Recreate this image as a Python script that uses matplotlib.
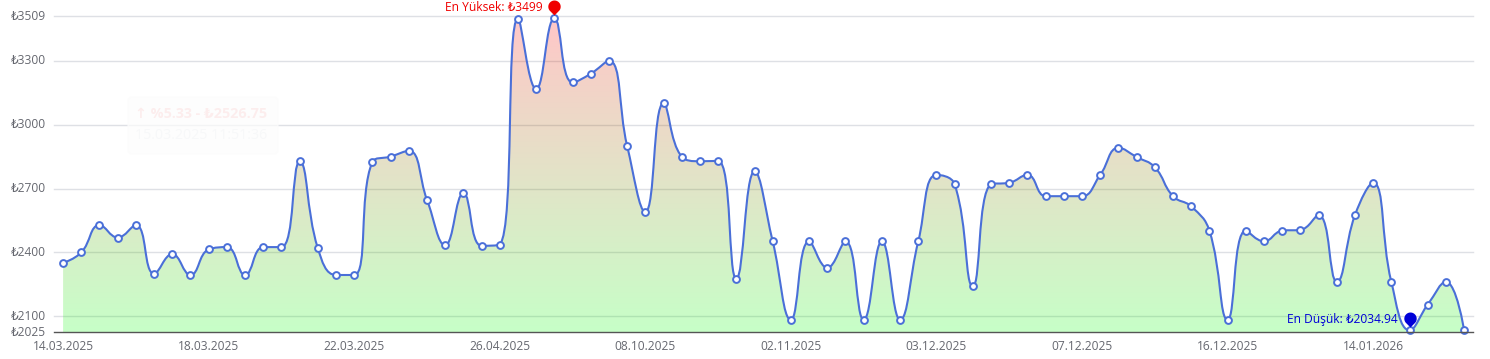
import numpy as np
import matplotlib
matplotlib.use("Agg")
import matplotlib.pyplot as plt
from matplotlib.path import Path
from matplotlib.patches import PathPatch, FancyBboxPatch
from matplotlib.transforms import ScaledTranslation

plt.rcParams['font.family'] = ['Open Sans', 'DejaVu Sans']

values = [2350, 2400, 2528, 2470, 2528, 2300, 2392, 2294, 2414, 2425, 2294, 2425, 2425,
          2827, 2420, 2294, 2294, 2825, 2850, 2877, 2647, 2434, 2678, 2431, 2437,
          3497, 3167, 3499, 3198, 3239, 3300, 2900, 2590, 3100, 2850, 2828, 2830,
          2276, 2780, 2452, 2084, 2452, 2328, 2452, 2084, 2452, 2084, 2452, 2764,
          2720, 2241, 2720, 2727, 2764, 2664, 2664, 2664, 2764, 2891, 2848, 2800,
          2664, 2616, 2502, 2084, 2502, 2452, 2502, 2506, 2575, 2262, 2575, 2727,
          2262, 2034.94, 2155, 2262, 2035]
date_labels = ['14.03.2025', '18.03.2025', '22.03.2025', '26.04.2025', '08.10.2025',
               '02.11.2025', '03.12.2025', '07.12.2025', '16.12.2025', '14.01.2026']
label_every = 8
y_ticks = [2025, 2100, 2400, 2700, 3000, 3300, 3509]
max_label = 'En Yüksek: ₺3499'
min_label = 'En Düşük: ₺2034.94'
ghost_top = '↑ %5.33 - ₺2526.75'
ghost_bottom = '15.03.2025 11:51:36'

W, H = 1490, 359
fig = plt.figure(figsize=(W / 100, H / 100), dpi=100, facecolor='white')
L, R, T, B = 54, 1473.2, 16.2, 332.3
ax = fig.add_axes([L / W, 1 - B / H, (R - L) / W, (B - T) / H])
n = len(values)
ax.set_xlim(-0.5, n - 0.5)
ax.set_ylim(min(y_ticks), max(y_ticks))
ax.set_facecolor('white')


def smooth_path(xs, ys, smooth=0.45):
    """ECharts-style smoothing, worked out in pixel space."""
    pts = ax.transData.transform(np.column_stack([xs, ys]))
    verts = [pts[0]]
    codes = [Path.MOVETO]
    cp0 = pts[0].copy()
    m = len(pts)
    for i in range(1, m):
        p = pts[i]
        prev = pts[i - 1]
        if i == m - 1:
            verts += [cp0, p, p]
            codes += [Path.CURVE4] * 3
            break
        nxt = pts[i + 1]
        v = nxt - prev
        d0 = p - prev
        d1 = nxt - p
        l0 = np.hypot(*d0)
        l1 = np.hypot(*d1)
        ratio = l1 / (l0 + l1)
        ncp = p + v * smooth * ratio
        ncp = np.minimum(ncp, np.maximum(nxt, p))
        ncp = np.maximum(ncp, np.minimum(nxt, p))
        vv = ncp - p
        cp1 = p - vv * l0 / l1
        cp1 = np.minimum(cp1, np.maximum(prev, p))
        cp1 = np.maximum(cp1, np.minimum(prev, p))
        vv = p - cp1
        ncp = p + vv * l1 / l0
        verts += [cp0, cp1, p]
        codes += [Path.CURVE4] * 3
        cp0 = ncp
    inv = ax.transData.inverted()
    return Path(inv.transform(np.array(verts)), codes)


xs = np.arange(n)
ys = np.array(values, dtype=float)
curve = smooth_path(xs, ys)

# grid
for t in y_ticks:
    if t != min(y_ticks):
        ax.axhline(t, color='#DEE0E5', lw=1.0, zorder=1, clip_on=False)

# gradient area
area_v = np.vstack([curve.vertices, [xs[-1], min(y_ticks)], [xs[0], min(y_ticks)], [xs[0], ys[0]]])
area_c = list(curve.codes) + [Path.LINETO, Path.LINETO, Path.CLOSEPOLY]
area = PathPatch(Path(area_v, area_c), transform=ax.transData, fc='none', ec='none')
ax.add_patch(area)
N = 256
frac = np.linspace(0, 1, N)[:, None]
grad = np.zeros((N, 1, 4))
grad[..., 0] = 1 - frac
grad[..., 1] = frac
grad[..., 3] = 0.22
im = ax.imshow(grad, extent=(-0.5, n - 0.5, min(y_ticks), max(ys)), origin='upper',
               aspect='auto', zorder=2, interpolation='bilinear')
im.set_clip_path(area)
ax.set_xlim(-0.5, n - 0.5)
ax.set_ylim(min(y_ticks), max(y_ticks))

# line + symbols
ax.add_patch(PathPatch(curve, fc='none', ec='#4A6FD8', lw=1.5, zorder=3, clip_on=False,
                       capstyle='round', joinstyle='round'))
ax.plot(xs, ys, ls='none', marker='o', ms=4.9, mfc='white', mec='#4A6FD8', mew=1.4,
        zorder=4, clip_on=False)


def pin():
    r, cy, tip = 6.2, 11.8, 3.0
    ang = np.radians(np.linspace(-40, 220, 60))
    arc = np.column_stack([r * np.cos(ang), cy + r * np.sin(ang)])
    v = np.vstack([arc, [(0, tip)], arc[:1]])
    return Path(v, [Path.MOVETO] + [Path.LINETO] * (len(v) - 2) + [Path.CLOSEPOLY])


i_max = int(np.argmax(ys))
i_min = int(np.argmin(ys))
for i, col, txt, dy in [(i_max, '#F00000', max_label, 11), (i_min, '#0000D8', min_label, 10.3)]:
    ax.plot([xs[i]], [ys[i]], marker=pin(), ms=25.9, mfc=col, mec='none', ls='none',
            zorder=5, clip_on=False)
    ax.annotate(txt, (xs[i], ys[i]), xytext=(-11.8 * 0.72, dy * 0.72), textcoords='offset points',
                ha='right', va='center', color=col, fontsize=8.64, zorder=6, annotation_clip=False)

# faint leftover tooltip
box = FancyBboxPatch((128, H - 154), 150, 57, boxstyle='round,pad=0,rounding_size=4',
                     transform=None, fc='#FDFDFD', ec='#FCFCFC', lw=1, alpha=0.7, zorder=2.5)
fig.add_artist(box)
fig.text(135 / W, 1 - 113.8 / H, ghost_top, color='#FCEDED', fontsize=10.3, fontweight='bold',
         ha='left', va='center')
fig.text(135 / W, 1 - 135.2 / H, ghost_bottom, color='#F7F8F9', fontsize=10.3, ha='left', va='center')

# axes
for s in ['top', 'left', 'right']:
    ax.spines[s].set_visible(False)
ax.spines['bottom'].set_color('#555555')
ax.spines['bottom'].set_linewidth(1.0)
ax.spines['bottom'].set_zorder(4.5)
ax.set_yticks(y_ticks)
ax.set_yticklabels([f'₺{t}' for t in y_ticks])
ax.set_xticks(np.arange(len(date_labels)) * label_every)
ax.set_xticklabels(date_labels)
ax.tick_params(axis='y', length=0, pad=5.9, labelsize=8.64, labelcolor='#666870')
ax.tick_params(axis='x', length=0, pad=5.2, labelsize=8.64, labelcolor='#666870')
shift = ScaledTranslation(0, 1.5 / 100, fig.dpi_scale_trans)
for lab in ax.get_yticklabels():
    lab.set_transform(lab.get_transform() + shift)

fig.savefig('out.png', dpi=100, facecolor='white')
